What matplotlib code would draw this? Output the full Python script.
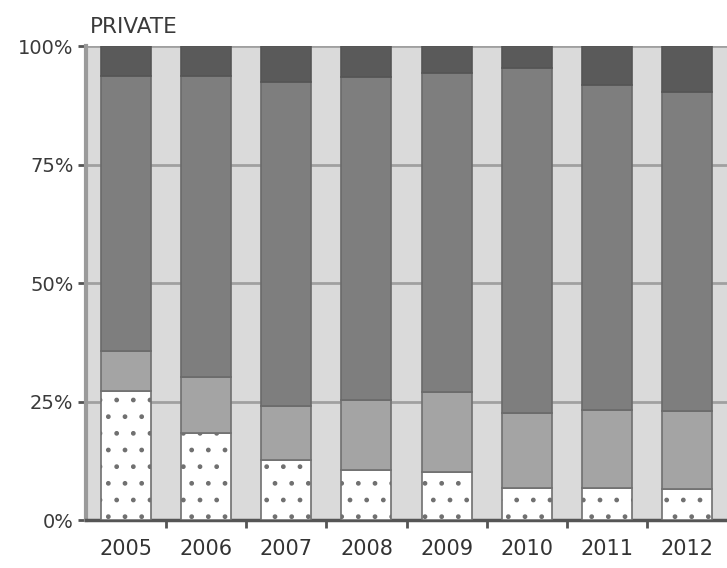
import matplotlib
matplotlib.use("Agg")
import matplotlib.pyplot as plt
import numpy as np

years = ["2005", "2006", "2007", "2008", "2009", "2010", "2011", "2012"]
# cumulative tops (percent)
white_top = [27.2, 18.4, 12.7, 10.6, 10.2, 6.8, 6.8, 6.6]
light_top = [35.6, 30.1, 24.0, 25.4, 27.1, 22.5, 23.3, 22.9]
main_top = [93.7, 93.6, 92.4, 93.4, 94.3, 95.3, 91.8, 90.2]
total = [100] * 8

seg_white = np.array(white_top)
seg_light = np.array(light_top) - np.array(white_top)
seg_main = np.array(main_top) - np.array(light_top)
seg_dark = np.array(total) - np.array(main_top)

plt.rcParams['hatch.linewidth'] = 1.0
plt.rcParams['hatch.color'] = "#8a8a8a"

fig = plt.figure(figsize=(7.27, 5.68), dpi=100)
ax = fig.add_axes([0.1183, 0.0845, 0.8817, 0.8345])
ax.set_facecolor("#dadada")

x = np.arange(len(years))
w = 0.625
ax.bar(x, seg_white, w, color="white", edgecolor="#707070", linewidth=1.2, hatch=".", zorder=3)
ax.bar(x, seg_light, w, bottom=seg_white, color="#a4a4a4", edgecolor="#707070", linewidth=1.2, zorder=3)
ax.bar(x, seg_main, w, bottom=np.array(light_top), color="#7e7e7e", edgecolor="#6a6a6a", linewidth=1.2, zorder=3)
ax.bar(x, seg_dark, w, bottom=np.array(main_top), color="#5a5a5a", edgecolor="#555555", linewidth=1.2, zorder=3)

ax.set_xlim(-0.5, len(years) - 0.5)
ax.set_ylim(0, 100)
ax.set_yticks([0, 25, 50, 75, 100])
ax.set_yticklabels(["0%", "25%", "50%", "75%", "100%"])
ax.yaxis.grid(True, color="#a0a0a0", linewidth=2, zorder=1)
ax.set_axisbelow(True)

ax.set_xticks(x)
ax.set_xticklabels(years)
ax.set_xticks(np.arange(0.5, len(years) - 0.5, 1), minor=True)
ax.tick_params(axis="x", which="major", length=0, labelsize=15, colors="#333333", pad=14)
ax.tick_params(axis="x", which="minor", length=6, width=2, color="#555555")
ax.tick_params(axis="y", length=6, width=2, color="#555555", labelsize=14, labelcolor="#3a3a3a", pad=3)

for s in ["top", "right"]:
    ax.spines[s].set_visible(False)
ax.spines["left"].set_color("#9a9a9a")
ax.spines["left"].set_linewidth(3)
ax.spines["bottom"].set_color("#555555")
ax.spines["bottom"].set_linewidth(2.5)

fig.text(0.124, 0.935, "PRIVATE", fontsize=15.5, color="#3a3a3a", ha="left", va="bottom")

fig.savefig("out.png", dpi=100)
